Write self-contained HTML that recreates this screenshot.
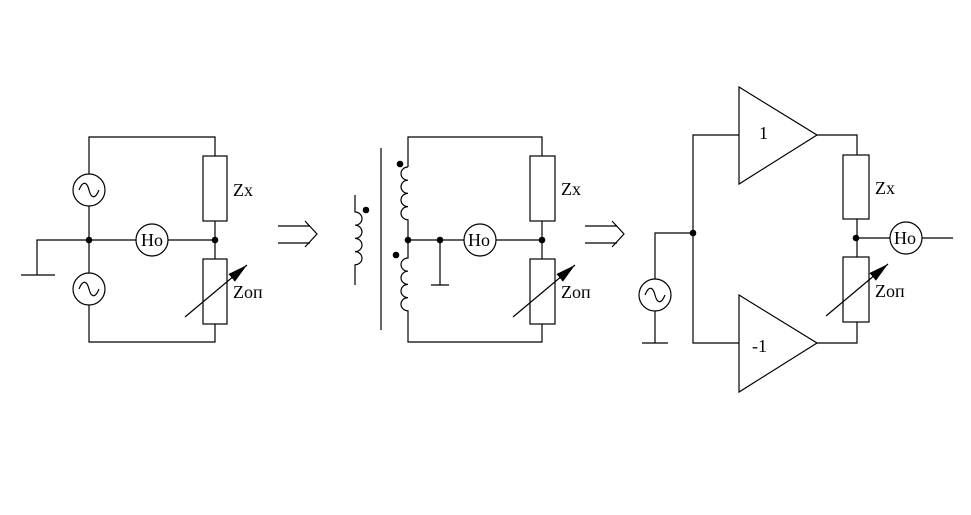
<!DOCTYPE html>
<html><head><style>body{margin:0;background:#fff}svg{display:block}</style></head><body>
<svg width="971" height="515" viewBox="0 0 971 515" xmlns="http://www.w3.org/2000/svg">
<defs><marker id="ah" markerWidth="10" markerHeight="8" refX="9" refY="4" orient="auto" markerUnits="userSpaceOnUse"><path d="M0,0 L18,4 L0,8 Z" transform="scale(0.55,1)" fill="#000"/></marker>
<marker id="ah2" viewBox="0 0 20 10" markerWidth="20" markerHeight="10" refX="20" refY="5" orient="auto" markerUnits="userSpaceOnUse"><path d="M0,0 L20,5 L0,10 Z" fill="#000"/></marker></defs>
<g fill="none" stroke="#000" stroke-width="1.2">
<!-- Left circuit -->
<polyline points="89,174 89,137 215,137 215,156"/>
<line x1="89" y1="206" x2="89" y2="273"/>
<polyline points="89,305 89,342 215,342 215,324"/>
<rect x="203" y="156" width="24" height="65"/>
<rect x="203" y="259" width="24" height="65"/>
<line x1="215" y1="221" x2="215" y2="259"/>
<line x1="89" y1="240" x2="136" y2="240"/>
<line x1="168" y1="240" x2="215" y2="240"/>
<polyline points="89,240 37,240 37,275"/>
<line x1="21" y1="275" x2="55" y2="275"/>
<circle cx="89" cy="190" r="16"/><circle cx="89" cy="289" r="16"/>
<path d="M79,190 C83,180 87,182 89,190 C91,198 95,200 99,190"/>
<path d="M79,289 C83,279 87,281 89,289 C91,297 95,299 99,289"/>
<circle cx="152" cy="240" r="16"/>
<line x1="185" y1="317" x2="247" y2="265" marker-end="url(#ah2)"/>
<!-- Arrows between -->
<line x1="278" y1="226" x2="310" y2="226"/><line x1="278" y1="243" x2="310" y2="243"/>
<polyline points="305,221 317,234 305,247"/>
<line x1="585" y1="226" x2="617" y2="226"/><line x1="585" y1="243" x2="617" y2="243"/>
<polyline points="612,221 624,234 612,247"/>
<!-- Middle -->
<line x1="381" y1="148" x2="381" y2="330"/>
<path d="M355,195 V212 a7,6.6 0 0 1 0,13.2 a7,6.6 0 0 1 0,13.2 a7,6.6 0 0 1 0,13.2 a7,6.6 0 0 1 0,13.2 V285"/>
<polyline points="408,167 408,137 542,137 542,156"/>
<path d="M408,167 a7,6.6 0 0 0 0,13.2 a7,6.6 0 0 0 0,13.2 a7,6.6 0 0 0 0,13.2 a7,6.6 0 0 0 0,13.2 V258 a7,6.6 0 0 0 0,13.2 a7,6.6 0 0 0 0,13.2 a7,6.6 0 0 0 0,13.2 a7,6.6 0 0 0 0,13.2 V342 H542 V324"/>
<line x1="408" y1="240" x2="464" y2="240"/><line x1="496" y1="240" x2="542" y2="240"/>
<line x1="440" y1="240" x2="440" y2="285"/><line x1="431" y1="285" x2="449" y2="285"/>
<circle cx="480" cy="240" r="16"/>
<rect x="530" y="156" width="25" height="65"/><rect x="530" y="259" width="25" height="65"/>
<line x1="542" y1="221" x2="542" y2="259"/>
<line x1="513" y1="317" x2="575" y2="265" marker-end="url(#ah2)"/>
<!-- Right -->
<polygon points="739,87 817,135 739,184"/>
<polygon points="739,295 817,343 739,392"/>
<polyline points="739,135 693,135 693,343 739,343"/>
<polyline points="693,233 655,233 655,279"/>
<line x1="655" y1="311" x2="655" y2="343"/><line x1="642" y1="343" x2="668" y2="343"/>
<circle cx="655" cy="295" r="16"/>
<path d="M645,295 C649,285 653,287 655,295 C657,303 661,305 665,295"/>
<polyline points="817,135 857,135 857,155"/>
<polyline points="817,343 857,343 857,322"/>
<rect x="843" y="155" width="26" height="64"/><rect x="843" y="257" width="26" height="65"/>
<line x1="857" y1="219" x2="857" y2="257"/>
<line x1="857" y1="238" x2="890" y2="238"/><line x1="922" y1="238" x2="953" y2="238"/>
<circle cx="906" cy="238" r="16"/>
<line x1="826" y1="316" x2="888" y2="264" marker-end="url(#ah2)"/>
</g>
<g fill="#000">
<circle cx="89" cy="240" r="3.3"/><circle cx="215" cy="240" r="3.3"/>
<circle cx="366" cy="210" r="3.3"/><circle cx="400" cy="164" r="3.3"/><circle cx="396" cy="255" r="3.3"/>
<circle cx="408" cy="240" r="3.3"/><circle cx="440" cy="240" r="3.3"/><circle cx="542" cy="240" r="3.3"/>
<circle cx="693" cy="233" r="3.3"/><circle cx="856" cy="238" r="3.3"/>
</g>
<g font-family="Liberation Serif, serif" font-size="18" fill="#000">
<text x="233" y="196">Zx</text><text x="233" y="298">Zоп</text>
<text x="141" y="246">Ho</text>
<text x="561" y="195">Zx</text><text x="561" y="298">Zоп</text>
<text x="468" y="246">Ho</text>
<text x="875" y="194">Zx</text><text x="875" y="297">Zоп</text>
<text x="894" y="244">Ho</text>
<text x="759" y="139">1</text><text x="752" y="352">-1</text>
</g>
</svg>
</body></html>
